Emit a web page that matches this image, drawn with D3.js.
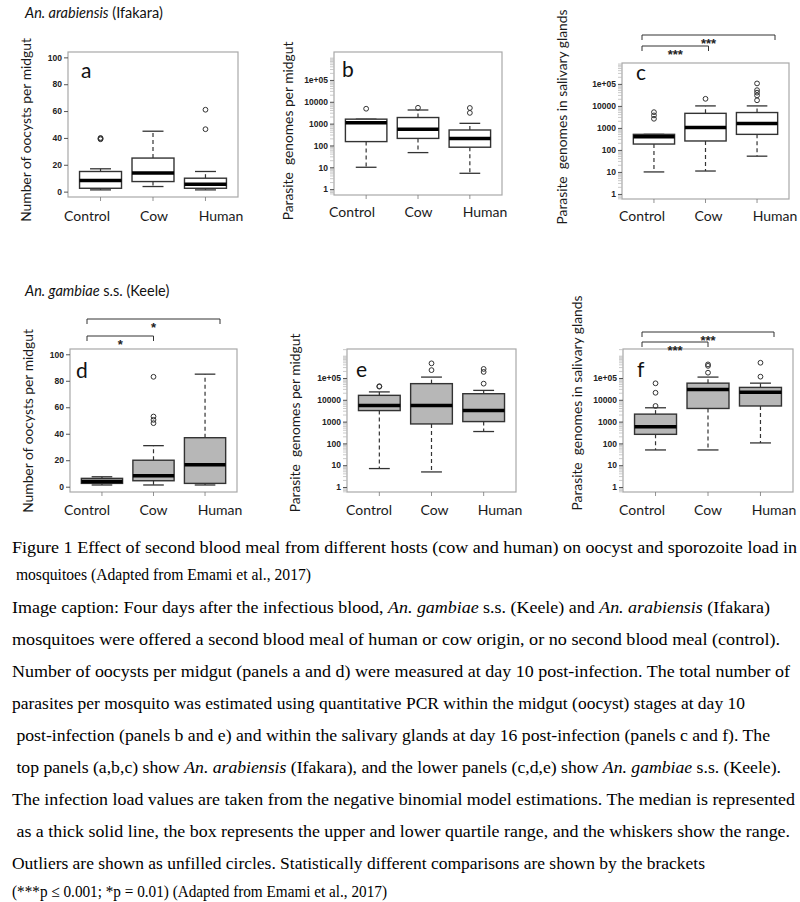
<!DOCTYPE html>
<html>
<head>
<meta charset="utf-8">
<script src="https://cdn.jsdelivr.net/npm/d3@7"></script>
<style>
  body { margin: 0; background: #fff; }
  svg { display: block; }
  text { white-space: pre; }
</style>
</head>
<body>
<script>
// groups shared by every panel
const groups = ['Control', 'Cow', 'Human']

// box stats per group: [lower whisker, q1, median, q3, upper whisker]
const aStats = [[1.3, 2.5, 8.3, 15, 17], [3.8, 7.5, 13.8, 25, 45], [1.3, 2.5, 5.5, 10, 15]]
const aOutliers = [[39, 39.5, 40], [], [46.5, 61]]

const bStats = [[10, 150, 1100, 1600, 1600], [47, 210, 550, 1900, 4200], [5.3, 83, 210, 510, 1030]]
const bOutliers = [[4800], [5300], [3100, 5200]]

const cStats = [[10, 185, 400, 510, 510], [11, 255, 1050, 4600, 10000], [52, 510, 1600, 5000, 10000]]
const cOutliers = [[2600, 3700, 5200], [21000], [18000, 30000, 40000, 52000, 105000]]

const dStats = [[1.3, 2.5, 4, 6.3, 7.5], [1.3, 4.5, 8.3, 20, 31], [1.3, 2.5, 16.5, 37, 85]]
const dOutliers = [[], [48, 50.5, 53, 83], []]

const eStats = [[7, 3200, 5500, 16000, 23000], [4.9, 780, 5500, 55000, 110000], [350, 1000, 3200, 19000, 27000]]
const eOutliers = [[40000, 42000], [230000, 470000], [55000, 190000, 260000]]

const fStats = [[50, 260, 580, 2200, 4300], [50, 4000, 30000, 58000, 110000], [105, 5200, 22000, 37000, 58000]]
const fOutliers = [[5200, 21000, 57000], [175000, 360000, 420000], [115000, 500000]]

// significance brackets: [from group, to group, label]
const cBrackets = [[0, 2, '***'], [0, 1, '***']]
const dBrackets = [[0, 2, '*'], [0, 1, '*']]
const fBrackets = [[0, 2, '***'], [0, 1, '***']]

const linearTicks = [0, 20, 40, 60, 80, 100]
const logTicks = [1, 10, 100, 1000, 10000, 100000]
const logTickLabels = ['1', '10', '100', '1000', '10000', '1e+05']

const title1 = [['An. arabiensis', true], [' (Ifakara)', false]]
const title2 = [['An. gambiae', true], [' s.s. (Keele)', false]]

const captionLines = [
  [['Figure 1 Effect of second blood meal from different hosts (cow and human) on oocyst and sporozoite load in']],
  [[' mosquitoes (Adapted from Emami et al., 2017)']],
  [['Image caption: Four days after the infectious blood, '], ['An. gambiae', 1], [' s.s. (Keele) and '], ['An. arabiensis', 1], [' (Ifakara)']],
  [['mosquitoes were offered a second blood meal of human or cow origin, or no second blood meal (control).']],
  [['Number of oocysts per midgut (panels a and d) were measured at day 10 post-infection. The total number of']],
  [['parasites per mosquito was estimated using quantitative PCR within the midgut (oocyst) stages at day 10']],
  [[' post-infection (panels b and e) and within the salivary glands at day 16 post-infection (panels c and f). The']],
  [[' top panels (a,b,c) show '], ['An. arabiensis', 1], [' (Ifakara), and the lower panels (c,d,e) show '], ['An. gambiae', 1], [' s.s. (Keele).']],
  [['The infection load values are taken from the negative binomial model estimations. The median is represented']],
  [[' as a thick solid line, the box represents the upper and lower quartile range, and the whiskers show the range.']],
  [['Outliers are shown as unfilled circles. Statistically different comparisons are shown by the brackets']],
  [['(***p \u2264 0.001; *p = 0.01) (Adapted from Emami et al., 2017)']]
]
// where each caption line ends on the page, and its baseline
const captionEnds = [797, 311, 770, 780, 790, 745, 770, 781, 795, 790, 705, 387]
const captionBaselines = [553, 580, 613, 645, 677, 709, 741, 773, 805, 837, 869, 897]

const W = 800, H = 902
const svg = d3.select('body').append('svg')
  .attr('width', W).attr('height', H)
  .attr('viewBox', `0 0 ${W} ${H}`)

const sansUI = 'Lato, "Open Sans", sans-serif'

const panels = [
  { letter: 'a', x0: 68, x1: 238, y0: 52, y1: 197, log: false, dom: [-4, 104],
    stats: aStats, outliers: aOutliers, fill: '#fff', letterAt: [81, 78],
    yTitle: 'Number of oocysts per midgut', yTitleAt: [31, 130],
    labelRange: [87, 221], labelY: 221, brackets: [] },
  { letter: 'b', x0: 334, x1: 502, y0: 52, y1: 195, log: true, dom: [-0.27, 6.28],
    stats: bStats, outliers: bOutliers, fill: '#fff', letterAt: [342, 77],
    yTitle: 'Parasite  genomes per midgut', yTitleAt: [293, 131],
    labelRange: [352, 485], labelY: 217, brackets: [] },
  { letter: 'c', x0: 622, x1: 789, y0: 63, y1: 199, log: true, dom: [-0.23, 5.95],
    stats: cStats, outliers: cOutliers, fill: '#fff', letterAt: [636, 80],
    yTitle: 'Parasite  genomes in salivary glands', yTitleAt: [567, 117],
    labelRange: [642, 775], labelY: 221, brackets: cBrackets, bracketY: [35, 46] },
  { letter: 'd', x0: 70, x1: 237, y0: 349, y1: 492, log: false, dom: [-4, 104],
    stats: dStats, outliers: dOutliers, fill: '#b7b7b7', letterAt: [76, 378],
    yTitle: 'Number of oocysts per midgut', yTitleAt: [33, 421],
    labelRange: [87, 220], labelY: 515, brackets: dBrackets, bracketY: [319, 336] },
  { letter: 'e', x0: 347, x1: 516, y0: 349, y1: 492, log: true, dom: [-0.23, 6.33],
    stats: eStats, outliers: eOutliers, fill: '#b7b7b7', letterAt: [356, 377],
    yTitle: 'Parasite  genomes per midgut', yTitleAt: [300, 423],
    labelRange: [369, 500], labelY: 515, brackets: [] },
  { letter: 'f', x0: 623, x1: 793, y0: 349, y1: 492, log: true, dom: [-0.23, 6.33],
    stats: fStats, outliers: fOutliers, fill: '#b7b7b7', letterAt: [637, 377],
    yTitle: 'Parasite  genomes in salivary glands', yTitleAt: [582, 403],
    labelRange: [642, 774], labelY: 515, brackets: fBrackets, bracketY: [332, 342] }
]

panels.forEach(drawPanel)

function drawPanel(p) {
  const g = svg.append('g')

  const x = d3.scalePoint().domain(groups).range([p.x0, p.x1]).padding(0.62)
  const xLab = d3.scalePoint().domain(groups).range(p.labelRange)
  const y = p.log
    ? d3.scaleLog().domain([10 ** p.dom[0], 10 ** p.dom[1]]).range([p.y1, p.y0])
    : d3.scaleLinear().domain(p.dom).range([p.y1, p.y0])
  const bw = x.step() * 0.8

  // frame
  g.append('rect')
    .attr('x', p.x0).attr('y', p.y0)
    .attr('width', p.x1 - p.x0).attr('height', p.y1 - p.y0)
    .attr('fill', 'none').attr('stroke', '#a8a8a8').attr('stroke-width', 1.2)

  // y axis
  if (p.log) {
    const minor = []
    for (let k = -1; k <= 6; k++) {
      for (let m = 1; m <= 9; m++) {
        const v = m * 10 ** k
        if (y(v) <= p.y1 && y(v) >= p.y0 && !logTicks.includes(v)) minor.push(v)
      }
    }
    g.selectAll('.minor').data(minor).join('line')
      .attr('x1', p.x0 - 4).attr('x2', p.x0)
      .attr('y1', d => y(d)).attr('y2', d => y(d))
      .attr('stroke', '#bdbdbd').attr('stroke-width', 0.8)
  }
  const ticks = p.log ? logTicks : linearTicks
  const tickLabels = p.log ? logTickLabels : linearTicks.map(String)
  const axis = d3.axisLeft(y).tickValues(ticks).tickSize(4).tickPadding(2)
    .tickFormat((d, i) => tickLabels[i])
  const ga = g.append('g').attr('transform', `translate(${p.x0},0)`).call(axis)
  ga.select('.domain').remove()
  ga.selectAll('.tick line').attr('stroke', '#555')
  ga.selectAll('.tick text')
    .attr('fill', '#222')
    .style('font', 'bold 8.5px "Liberation Sans", Arial, sans-serif')

  // x ticks under each group
  g.selectAll('.xtick').data(groups).join('line')
    .attr('x1', d => x(d)).attr('x2', d => x(d))
    .attr('y1', p.y1).attr('y2', p.y1 + 4)
    .attr('stroke', '#777').attr('stroke-width', 0.8)

  const data = groups.map((k, i) => ({ k, s: p.stats[i], out: p.outliers[i] }))
  const bg = g.selectAll('.bx').data(data).join('g').attr('class', 'bx')

  // whiskers
  bg.append('line')
    .attr('x1', d => x(d.k)).attr('x2', d => x(d.k))
    .attr('y1', d => y(d.s[3])).attr('y2', d => y(d.s[4]))
    .attr('stroke', '#333').attr('stroke-width', 1.2).attr('stroke-dasharray', '4,3')
  bg.append('line')
    .attr('x1', d => x(d.k)).attr('x2', d => x(d.k))
    .attr('y1', d => y(d.s[1])).attr('y2', d => y(d.s[0]))
    .attr('stroke', '#333').attr('stroke-width', 1.2).attr('stroke-dasharray', '4,3')
  // caps
  ;[0, 4].forEach(j => {
    bg.append('line')
      .attr('x1', d => x(d.k) - bw / 4).attr('x2', d => x(d.k) + bw / 4)
      .attr('y1', d => y(d.s[j])).attr('y2', d => y(d.s[j]))
      .attr('stroke', '#333').attr('stroke-width', 1.3)
  })
  // box
  bg.append('rect')
    .attr('x', d => x(d.k) - bw / 2).attr('width', bw)
    .attr('y', d => y(d.s[3])).attr('height', d => y(d.s[1]) - y(d.s[3]))
    .attr('fill', p.fill).attr('stroke', '#333').attr('stroke-width', 1.4)
  // median
  bg.append('line')
    .attr('x1', d => x(d.k) - bw / 2).attr('x2', d => x(d.k) + bw / 2)
    .attr('y1', d => y(d.s[2])).attr('y2', d => y(d.s[2]))
    .attr('stroke', '#000').attr('stroke-width', 3.5)
  // outliers
  bg.selectAll('circle').data(d => d.out.map(v => ({ k: d.k, v }))).join('circle')
    .attr('cx', d => x(d.k)).attr('cy', d => y(d.v)).attr('r', 2.4)
    .attr('fill', 'none').attr('stroke', '#333').attr('stroke-width', 1)

  // panel letter
  g.append('text')
    .attr('x', p.letterAt[0]).attr('y', p.letterAt[1])
    .style('font', `21px ${sansUI}`).attr('fill', '#111')
    .text(p.letter)

  // y title
  g.append('text')
    .attr('transform', `translate(${p.yTitleAt[0]},${p.yTitleAt[1]}) rotate(-90)`)
    .attr('text-anchor', 'middle')
    .style('font', `13.8px ${sansUI}`).attr('fill', '#1a1a1a')
    .text(p.yTitle)

  // group labels
  g.selectAll('.xlab').data(groups).join('text')
    .attr('x', d => xLab(d)).attr('y', p.labelY)
    .attr('text-anchor', 'middle')
    .style('font', `14px ${sansUI}`).attr('fill', '#1a1a1a')
    .text(d => d)

  // brackets
  p.brackets.forEach((b, i) => {
    const yb = p.bracketY[i]
    const xa = xLab(groups[b[0]]), xb = xLab(groups[b[1]])
    g.append('path')
      .attr('d', `M${xa},${yb + 5}V${yb}H${xb}V${yb + 5}`)
      .attr('fill', 'none').attr('stroke', '#333').attr('stroke-width', 1)
    g.append('text')
      .attr('x', (xa + xb) / 2).attr('y', yb + 13)
      .attr('text-anchor', 'middle')
      .style('font', 'bold 13px "Liberation Sans", Arial, sans-serif').attr('fill', '#222')
      .text(b[2])
  })
}

// species titles
function speciesTitle(parts, yBase) {
  const t = svg.append('text').attr('x', 25).attr('y', yBase)
    .style('font', `14.5px ${sansUI}`).attr('fill', '#111')
  parts.forEach(pt => {
    t.append('tspan').style('font-style', pt[1] ? 'italic' : 'normal').text(pt[0])
  })
}
speciesTitle(title1, 18)
speciesTitle(title2, 296)

// caption
captionLines.forEach((line, i) => {
  const t = svg.append('text')
    .attr('x', 12).attr('y', captionBaselines[i])
    .attr('textLength', captionEnds[i] - 12)
    .attr('lengthAdjust', 'spacingAndGlyphs')
    .style('font', '16.5px "Liberation Serif", "Times New Roman", serif')
    .attr('fill', '#000')
  line.forEach(seg => {
    t.append('tspan').style('font-style', seg[1] ? 'italic' : 'normal').text(seg[0])
  })
})
</script>
</body>
</html>
